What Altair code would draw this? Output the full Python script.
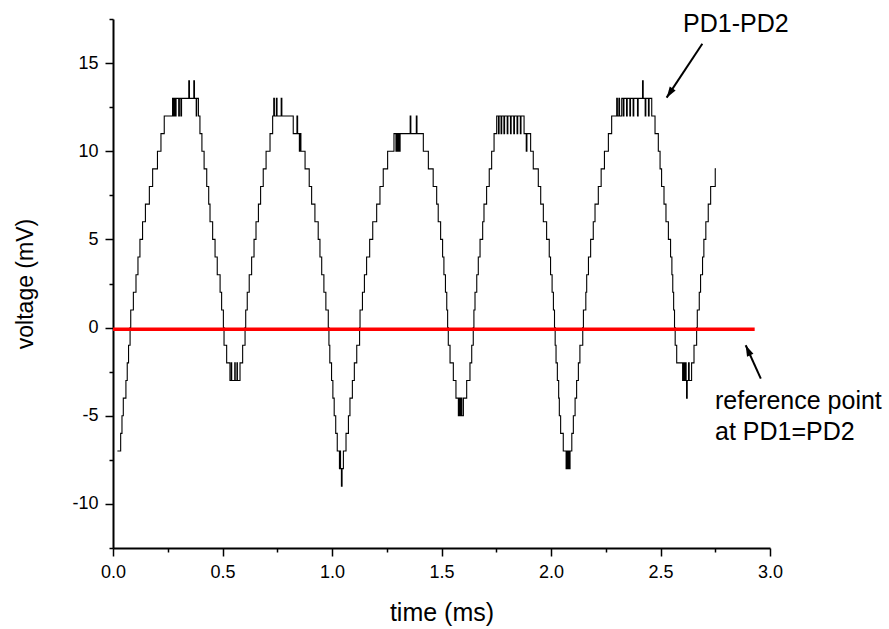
import math
import altair as alt
import pandas as pd

# ---- measured trace: time (ms) at which each quantized level (mV) begins ----
t_ms = [
    0.020, 0.035, 0.041, 0.047, 0.059, 0.065, 0.071, 0.078,
    0.081, 0.093, 0.105, 0.114, 0.123, 0.135, 0.148, 0.166, 0.181, 0.203, 0.219, 0.234,
    0.272, 0.276, 0.280, 0.285, 0.288, 0.300, 0.303, 0.310, 0.313,
    0.346, 0.349, 0.369, 0.372, 0.380, 0.382,
    0.390, 0.397, 0.406, 0.416, 0.428, 0.437, 0.443, 0.455, 0.466, 0.476, 0.489, 0.496,
    0.504, 0.507, 0.519, 0.534,
    0.540, 0.542, 0.556, 0.558, 0.566, 0.568,
    0.580, 0.592, 0.603,
    0.606, 0.613, 0.622, 0.633, 0.644, 0.653, 0.664, 0.674, 0.686, 0.699, 0.717, 0.729,
    0.734, 0.737, 0.746, 0.749, 0.768, 0.771,
    0.823, 0.840, 0.843, 0.851, 0.856, 0.858, 0.877, 0.896, 0.907, 0.922, 0.937, 0.945,
    0.953, 0.963, 0.972, 0.983,
    0.986, 0.990, 0.998, 1.004, 1.010, 1.017, 1.024, 1.034, 1.037, 1.039, 1.043, 1.046,
    1.052, 1.064, 1.075, 1.082, 1.093, 1.102, 1.113, 1.126,
    1.128, 1.139, 1.148, 1.158, 1.172, 1.186, 1.204, 1.219, 1.234, 1.254, 1.283,
    1.292, 1.295, 1.300, 1.303, 1.308, 1.311,
    1.357, 1.360, 1.385, 1.388,
    1.417, 1.440, 1.462, 1.478, 1.485, 1.496, 1.505, 1.511, 1.518, 1.524, 1.528,
    1.531, 1.539, 1.554, 1.566, 1.577, 1.582, 1.585, 1.590, 1.593, 1.600, 1.615, 1.630,
    1.638, 1.645,
    1.648, 1.653, 1.661, 1.668, 1.676, 1.688, 1.694, 1.706, 1.718, 1.729, 1.740, 1.752,
    1.760, 1.763, 1.772, 1.775, 1.785, 1.788, 1.800, 1.803, 1.815, 1.818, 1.830, 1.833,
    1.845, 1.848, 1.860, 1.863,
    1.877, 1.887, 1.890, 1.907, 1.919, 1.942, 1.953, 1.965, 1.980, 1.992, 1.998, 2.005,
    2.011, 2.016,
    2.019, 2.023, 2.029, 2.035, 2.038, 2.044, 2.056, 2.069, 2.074, 2.076, 2.080, 2.082,
    2.087, 2.095, 2.102, 2.110, 2.117, 2.125, 2.132, 2.145,
    2.148, 2.159, 2.163, 2.171, 2.181, 2.193, 2.201, 2.216, 2.229, 2.244, 2.262, 2.277,
    2.300, 2.303, 2.310, 2.313, 2.323, 2.330, 2.333, 2.345, 2.348, 2.360, 2.363, 2.375,
    2.378, 2.395, 2.398, 2.418, 2.421, 2.430, 2.433, 2.445, 2.448,
    2.460, 2.475, 2.490, 2.498, 2.505, 2.516, 2.525, 2.536, 2.546, 2.552, 2.556, 2.560,
    2.564,
    2.567, 2.574, 2.601, 2.606, 2.609, 2.614, 2.617, 2.619, 2.622, 2.628, 2.631, 2.642,
    2.653, 2.665,
    2.668, 2.677, 2.683, 2.692, 2.698, 2.707, 2.718, 2.729, 2.750, 2.753,
]
v_mv = [
    -7, -6, -5, -4, -3, -2, -1, 0,
    1, 2, 3, 4, 5, 6, 7, 8, 9, 10, 11, 12,
    13, 12, 13, 12, 13, 12, 13, 12, 13,
    14, 13, 14, 13, 12, 13,
    12, 11, 10, 9, 8, 7, 6, 5, 4, 3, 2, 1,
    0, -1, -2, -3,
    -2, -3, -2, -3, -2, -3,
    -2, -1, 0,
    1, 2, 3, 4, 5, 6, 7, 8, 9, 10, 11, 12,
    13, 12, 13, 12, 13, 12,
    11, 12, 11, 10, 11, 10, 9, 8, 7, 6, 5, 4,
    3, 2, 1, 0,
    -1, -2, -3, -4, -5, -6, -7, -8, -7, -8, -9, -8,
    -7, -6, -5, -4, -3, -2, -1, 0,
    1, 2, 3, 4, 5, 6, 7, 8, 9, 10, 11,
    10, 11, 10, 11, 10, 11,
    12, 11, 12, 11,
    10, 9, 8, 7, 6, 5, 4, 3, 2, 1, 0,
    -1, -2, -3, -4, -5, -4, -5, -4, -5, -4, -3, -2,
    -1, 0,
    1, 2, 3, 4, 5, 6, 7, 8, 9, 10, 11, 12,
    11, 12, 11, 12, 11, 12, 11, 12, 11, 12, 11, 12,
    11, 12, 11, 12,
    11, 10, 11, 10, 9, 8, 7, 6, 5, 4, 3, 2,
    1, 0,
    -1, -2, -3, -4, -5, -6, -7, -8, -7, -8, -7, -8,
    -7, -6, -5, -4, -3, -2, -1, 0,
    1, 2, 3, 4, 5, 6, 7, 8, 9, 10, 11, 12,
    13, 12, 13, 12, 13, 12, 13, 12, 13, 12, 13, 12,
    13, 12, 13, 14, 13, 12, 13, 12, 13,
    12, 11, 10, 9, 8, 7, 6, 5, 4, 3, 2, 1,
    0,
    -1, -2, -3, -2, -3, -2, -3, -4, -3, -2, -3, -2,
    -1, 0,
    1, 2, 3, 4, 5, 6, 7, 8, 9, 9,
]

# reference line (PD1 = PD2)
ref_t = [0.0, 2.93]
ref_v = [-0.1, -0.1]

# axis ticks
x_ticks = [0.0, 0.25, 0.5, 0.75, 1.0, 1.25, 1.5, 1.75, 2.0, 2.25, 2.5, 2.75, 3.0]
y_ticks = [-12.5, -10, -7.5, -5, -2.5, 0, 2.5, 5, 7.5, 10, 12.5, 15, 17.5]

# annotations
note_text = ["PD1-PD2", "reference point", "at PD1=PD2"]
note_t = [2.603, 2.749, 2.749]
note_v = [16.76, -4.60, -6.35]

arrow_t_from = [2.691, 2.958]
arrow_v_from = [16.10, -2.89]
arrow_t_to = [2.528, 2.889]
arrow_v_to = [13.04, -1.00]

# ---- layout ----
W, H = 657, 529
X_DOM = [0, 3]
Y_DOM = [-12.5, 17.5]
FONT = "Liberation Sans"

trace_df = pd.DataFrame({"t": t_ms, "v": v_mv})
ref_df = pd.DataFrame({"t": ref_t, "v": ref_v})
note_df = pd.DataFrame({"t": note_t, "v": note_v, "label": note_text})

px_t = W / (X_DOM[1] - X_DOM[0])
px_v = H / (Y_DOM[1] - Y_DOM[0])
angles = []
for t1, v1, t2, v2 in zip(arrow_t_from, arrow_v_from, arrow_t_to, arrow_v_to):
    dx = (t2 - t1) * px_t
    dy = -(v2 - v1) * px_v
    angles.append(math.degrees(math.atan2(dx, -dy)) % 360)
arrow_df = pd.DataFrame({
    "t": arrow_t_from, "v": arrow_v_from,
    "t2": arrow_t_to, "v2": arrow_v_to, "ang": angles,
})
head_df = pd.DataFrame({"t": arrow_t_to, "v": arrow_v_to, "ang": angles})

x_scale = alt.Scale(domain=X_DOM, nice=False, zero=False)
y_scale = alt.Scale(domain=Y_DOM, nice=False, zero=False)

x_axis = alt.Axis(
    values=x_ticks,
    labelExpr="datum.value % 0.5 === 0 ? format(datum.value, '.1f') : ''",
    tickSize={"condition": {"test": "datum.value % 0.5 !== 0", "value": 4}, "value": 8},
    tickWidth=1.5, tickColor="black",
    domainColor="black", domainWidth=2,
    labelFont=FONT, labelFontSize=18, labelColor="black", labelPadding=7,
    labelOverlap=False, labelFlush=False, grid=False,
    title="time (ms)", titleFont=FONT, titleFontSize=25, titleFontWeight="normal",
    titleColor="black", titleY=72, titleBaseline="alphabetic",
)
y_axis = alt.Axis(
    values=y_ticks,
    labelExpr="datum.value % 5 === 0 ? '' + datum.value : ''",
    tickSize={"condition": {"test": "datum.value % 5 !== 0", "value": 4}, "value": 8},
    tickWidth=1.5, tickColor="black",
    domainColor="black", domainWidth=2,
    labelFont=FONT, labelFontSize=18, labelColor="black", labelPadding=7,
    labelOverlap=False, labelFlush=False, grid=False,
    title="voltage (mV)", titleFont=FONT, titleFontSize=23, titleFontWeight="normal",
    titleColor="black", titleX=-81, titleY=H / 2, titleAngle=270,
    titleAlign="center", titleBaseline="alphabetic",
)

X = alt.X("t:Q", scale=x_scale, axis=x_axis)
Y = alt.Y("v:Q", scale=y_scale, axis=y_axis)

trace = alt.Chart(trace_df).mark_line(
    interpolate="step-after", color="black", strokeWidth=1.1
).encode(x=X, y=Y)

ref = alt.Chart(ref_df).mark_line(color="#ff0000", strokeWidth=3.5).encode(x=X, y=Y)

shafts = alt.Chart(arrow_df).mark_rule(color="black", strokeWidth=2).encode(
    x=X, y=Y, x2="t2:Q", y2="v2:Q"
)

heads = alt.Chart(head_df).mark_point(
    shape="M0,0L0.32,1L-0.32,1Z", filled=True, size=484, color="black", opacity=1,
    strokeWidth=0,
).encode(x=X, y=Y, angle=alt.Angle("ang:Q", scale=None))

notes = alt.Chart(note_df).mark_text(
    align="left", baseline="alphabetic", font=FONT, fontSize=25, color="black"
).encode(x=X, y=Y, text="label:N")

chart = alt.layer(trace, ref, shafts, heads, notes).properties(
    width=W, height=H,
    padding={"left": 113, "top": 19, "right": 119, "bottom": 81},
    autosize=alt.AutoSizeParams(type="none"),
    background="white",
).configure_view(strokeWidth=0)

chart.save("out.html", embed_options={"renderer": "svg", "actions": False})
